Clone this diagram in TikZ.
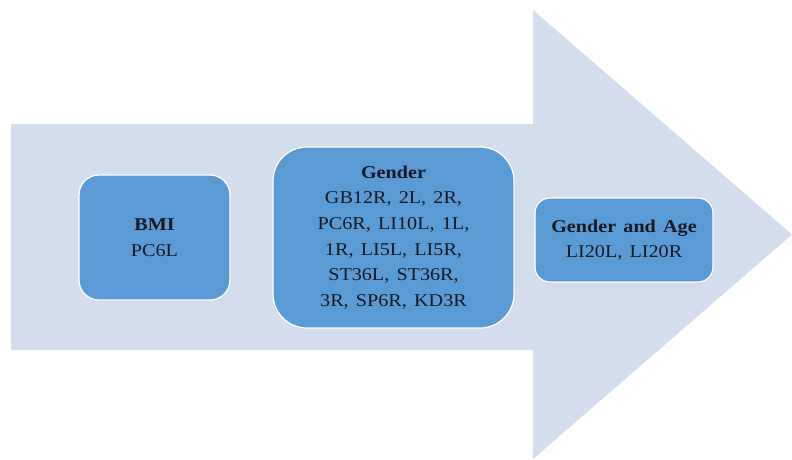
\documentclass[tikz,border=0pt]{standalone}
\usepackage{fontspec}
\setmainfont[FakeStretch=1.12]{Liberation Serif}
\definecolor{arrowfill}{RGB}{211,221,238}
\definecolor{boxblue}{RGB}{91,155,213}
\definecolor{textdark}{RGB}{22,24,34}
\newcommand{\gp}{\hspace{0.4em}}
\begin{document}
\begin{tikzpicture}[x=1pt,y=-1pt,
  stage/.style={draw=white, line width=1.2pt, fill=boxblue, rounded corners=#1,
    inner sep=0pt, align=center, text=textdark,
    font=\fontsize{18}{25.7}\selectfont}]
  \useasboundingbox (0,0) rectangle (792,459);

  % broad background arrow
  \fill[arrowfill] (11,124) -- (533,124) -- (533,10) -- (792,234.5)
    -- (533,459) -- (533,350) -- (11,350) -- cycle;

  % stages along the arrow
  \node[stage=20pt, minimum width=151pt, minimum height=125pt] (bmi)
    at (154.5,237.5) {\textbf{BMI}\\PC6L};
  \node[stage=34pt, minimum width=241pt, minimum height=181pt] (gender)
    at (393.5,237.5) {\textbf{Gender}\\
      GB12R,\gp 2L,\gp 2R,\\
      PC6R,\gp LI10L,\gp 1L,\\
      1R,\gp LI5L,\gp LI5R,\\
      ST36L,\gp ST36R,\\
      3R,\gp SP6R,\gp KD3R};
  \node[stage=15pt, minimum width=178pt, minimum height=84pt] (genderage)
    at (624,240) {\textbf{Gender\gp and\gp Age}\\LI20L,\gp LI20R};
\end{tikzpicture}
\end{document}
